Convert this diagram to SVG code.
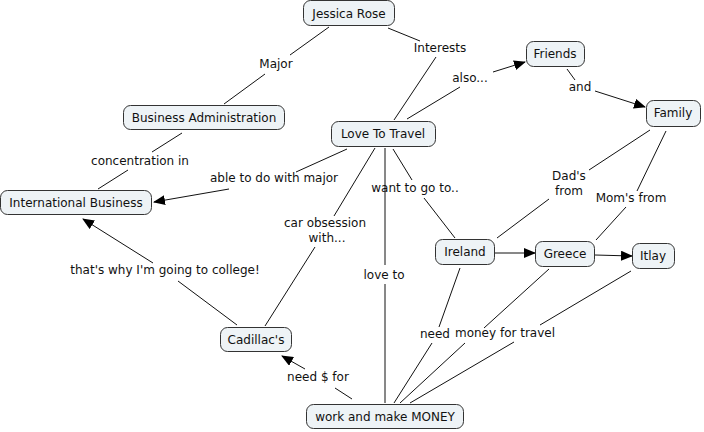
<svg xmlns="http://www.w3.org/2000/svg" width="704" height="432" viewBox="0 0 704 432">
<defs>
<style>
.n rect{fill:#eef3f6;stroke:#333;stroke-width:1}
text{font-family:"DejaVu Sans",Verdana,sans-serif;font-size:12px;fill:#111;text-anchor:middle}
.c line{stroke:#111;stroke-width:1}
.c line.a{marker-end:url(#ah)}
</style>
<marker id="ah" markerWidth="12" markerHeight="10" refX="11" refY="5" orient="auto" markerUnits="userSpaceOnUse">
<path d="M0,0 L12,5 L0,10 Z" fill="#000"/>
</marker>
</defs>
<rect width="704" height="432" fill="#fff"/>
<g class="c" id="connectors">
<line x1="329" y1="27" x2="290" y2="55"/>
<line x1="265" y1="74" x2="224" y2="104"/>
<line x1="388" y1="28" x2="420" y2="41"/>
<line x1="436" y1="57" x2="394" y2="120"/>
<line x1="407" y1="119" x2="460" y2="87"/>
<line class="a" x1="493" y1="72" x2="525" y2="62"/>
<line x1="567" y1="69" x2="575" y2="80"/>
<line class="a" x1="595" y1="91" x2="645" y2="107"/>
<line x1="182" y1="133" x2="152" y2="152"/>
<line x1="128" y1="170" x2="98" y2="189"/>
<line x1="347" y1="149" x2="296" y2="172"/>
<line class="a" x1="229" y1="189" x2="154" y2="202"/>
<line x1="393" y1="149" x2="412" y2="180"/>
<line x1="424" y1="198" x2="455" y2="238"/>
<line x1="650" y1="130" x2="589" y2="170"/>
<line x1="549" y1="199" x2="497" y2="238"/>
<line x1="666" y1="131" x2="637" y2="191"/>
<line x1="626" y1="207" x2="596" y2="240"/>
<line x1="375" y1="148" x2="334" y2="216"/>
<line x1="315" y1="247" x2="265" y2="326"/>
<line x1="385" y1="148" x2="385" y2="265"/>
<line x1="385" y1="284" x2="385" y2="403"/>
<line x1="237" y1="325" x2="178" y2="281"/>
<line class="a" x1="153" y1="263" x2="83" y2="219"/>
<line x1="352" y1="399" x2="335" y2="388"/>
<line class="a" x1="305" y1="369" x2="282" y2="356"/>
<line x1="460" y1="268" x2="439" y2="327"/>
<line x1="432" y1="343" x2="394" y2="403"/>
<line x1="549" y1="269" x2="484" y2="328"/>
<line x1="465" y1="343" x2="400" y2="403"/>
<line x1="631" y1="271" x2="540" y2="325"/>
<line x1="514" y1="342" x2="410" y2="403"/>
<line class="a" x1="495" y1="253" x2="535" y2="253"/>
<line class="a" x1="595" y1="255" x2="632" y2="256"/>
</g>
<g id="linklabels">
<text x="276" y="68">Major</text>
<text x="440" y="52">Interests</text>
<text x="470" y="82">also...</text>
<text x="580" y="91">and</text>
<text x="140" y="165">concentration in</text>
<text x="274" y="182">able to do with major</text>
<text x="415" y="192">want to go to..</text>
<text x="569" y="180">Dad's</text>
<text x="569" y="195">from</text>
<text x="631" y="202">Mom's from</text>
<text x="325" y="227">car obsession</text>
<text x="327" y="242">with...</text>
<text x="384" y="279">love to</text>
<text x="165" y="274">that's why I'm going to college!</text>
<text x="435" y="338">need</text>
<text x="505" y="337">money for travel</text>
<text x="318" y="381">need $ for</text>
</g>
<g class="n" id="n-jessica"><rect x="303.5" y="0.5" width="91" height="25" rx="7"/><text x="349" y="18">Jessica Rose</text></g>
<g class="n" id="n-busadmin"><rect x="123.5" y="105.5" width="161" height="24" rx="7"/><text x="204" y="122">Business Administration</text></g>
<g class="n" id="n-intbus"><rect x="0.5" y="190.5" width="151" height="24" rx="7"/><text x="76" y="207">International Business</text></g>
<g class="n" id="n-travel"><rect x="331.5" y="121.5" width="104" height="25" rx="7"/><text x="383" y="138">Love To Travel</text></g>
<g class="n" id="n-friends"><rect x="526.5" y="41.5" width="58" height="25" rx="7"/><text x="555" y="58">Friends</text></g>
<g class="n" id="n-family"><rect x="646.5" y="100.5" width="54" height="26" rx="7"/><text x="673" y="117">Family</text></g>
<g class="n" id="n-ireland"><rect x="435.5" y="239.5" width="59" height="25" rx="7"/><text x="465" y="256">Ireland</text></g>
<g class="n" id="n-greece"><rect x="535.5" y="241.5" width="59" height="25" rx="7"/><text x="565" y="258">Greece</text></g>
<g class="n" id="n-itlay"><rect x="632.5" y="243.5" width="42" height="25" rx="7"/><text x="653" y="260">Itlay</text></g>
<g class="n" id="n-cadillac"><rect x="220.5" y="327.5" width="71" height="24" rx="7"/><text x="256" y="344">Cadillac's</text></g>
<g class="n" id="n-work"><rect x="306.5" y="404.5" width="157" height="24" rx="7"/><text x="385" y="421">work and make MONEY</text></g>
</svg>
